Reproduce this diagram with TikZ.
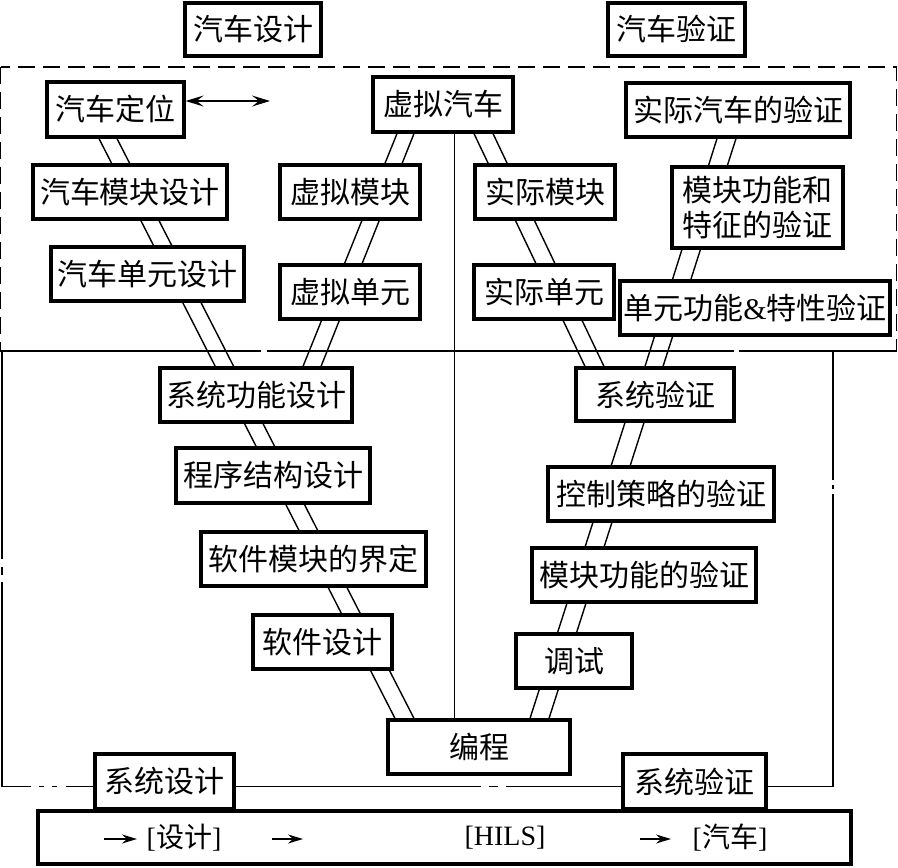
\documentclass[tikz,border=0pt]{standalone}
\usepackage{fontspec}
\setmainfont{Liberation Serif}
\newfontfamily\cjk{Noto Sans CJK SC}
\newfontfamily\lat{Liberation Serif}
\usetikzlibrary{arrows.meta,backgrounds}
\begin{document}
\begin{tikzpicture}[x=1pt,y=-1pt,
  box/.style={draw, line width=3.2pt, fill=white, inner sep=0pt, align=center,
    font=\cjk\fontsize{30}{35}\selectfont},
  sz/.style n args={2}{minimum width=#1pt, minimum height=#2pt},
  rail/.style={line width=1.4pt},
  thinline/.style={line width=1pt},
  chain/.style={line width=1.3pt},
  dashbox/.style={line width=1.3pt, dash pattern=on 17pt off 8pt},
  dblarrow/.style={line width=1.3pt, {Stealth[length=18pt,width=11pt,inset=7pt]}-{Stealth[length=18pt,width=11pt,inset=7pt]}},
  smallarrow/.style={line width=1.4pt, -{Stealth[length=15pt,width=9pt,inset=5pt]}},
  btext/.style={inner sep=0pt, font=\cjk\fontsize{28}{28}\selectfont}
]
\useasboundingbox (0,0) rectangle (898,868);

% nodes
\node[box, sz={136}{53}] (d0) at (253,29.5) {汽车设计};
\node[box, sz={137}{53}] (v0) at (676.5,29.5) {汽车验证};

\node[box, sz={137}{55}] (a1) at (115.5,109.5) {汽车定位};
\node[box, sz={194}{54}] (a2) at (130,192) {汽车模块设计};
\node[box, sz={193}{54}] (a3) at (147.5,274) {汽车单元设计};

\node[box, sz={140}{55}] (b1) at (443,104.5) {虚拟汽车};
\node[box, sz={140}{54}] (b2) at (350,192) {虚拟模块};
\node[box, sz={140}{54}] (b3) at (350,292) {虚拟单元};

\node[box, sz={140}{54}] (c1) at (545,192) {实际模块};
\node[box, sz={140}{54}] (c2) at (544,292) {实际单元};

\node[box, sz={224}{54}] (e1) at (738,110) {实际汽车的验证};
\node[box, sz={171}{81}] (e2) at (757.5,207.5) {模块功能和\\特征的验证};
\node[box, sz={270}{54}] (e3) at (755,308) {单元功能{\lat\&}特性验证};

\node[box, sz={192}{54}] (s1) at (256,395) {系统功能设计};
\node[box, sz={194}{55}] (s2) at (273,475.5) {程序结构设计};
\node[box, sz={225}{54}] (s3) at (313.5,559) {软件模块的界定};
\node[box, sz={139}{54}] (s4) at (322.5,642) {软件设计};

\node[box, sz={158}{53}] (t1) at (655,394.5) {系统验证};
\node[box, sz={226}{54}] (t2) at (661,494) {控制策略的验证};
\node[box, sz={224}{54}] (t3) at (644,575) {模块功能的验证};
\node[box, sz={116}{54}] (t4) at (574,661) {调试};

\node[box, sz={182}{54}] (p) at (479,747) {编程};

\node[box, sz={139}{55}] (f1) at (164.5,781.5) {系统设计};
\node[box, sz={143}{55}] (f2) at (694.5,781.5) {系统验证};

\node[box, sz={813}{53}] (g) at (444.5,837.5) {};

% bottom texts
\node[btext] (g1) at (184,838) {{\lat[}设计{\lat]}};
\node[btext, font=\lat\fontsize{28}{28}\selectfont] (g2) at (505,838) {[HILS]};
\node[btext] (g3) at (730,838) {{\lat[}汽车{\lat]}};

\coordinate (ar1s) at (104,839); \coordinate (ar1e) at (137,839);
\coordinate (ar2s) at (272,839); \coordinate (ar2e) at (303,839);
\coordinate (ar3s) at (640,839); \coordinate (ar3e) at (671,839);
\draw[smallarrow] (ar1s) -- (ar1e);
\draw[smallarrow] (ar2s) -- (ar2e);
\draw[smallarrow] (ar3s) -- (ar3e);

% double arrow near 汽车定位
\coordinate (dae) at (270,101);
\draw[dblarrow] ([yshift=8.5pt]a1.east) -- (dae);

% coordinates for the frame lines
\coordinate (hl) at (0,351);
\coordinate (hr) at (897,351);
\coordinate (lt) at (2,351);
\coordinate (rt) at (833,351);

\begin{pgfonlayer}{background}
  % dashed frame
  \draw[dashbox] (0.8,67) rectangle (896.5,351);
  % chain lines
  \draw[chain, dash pattern=on 247pt off 6pt on 8pt off 6pt on 463pt off 9pt on 10pt off 9pt on 300pt] (hl) -- (hr);
  \draw[chain, dash pattern=on 27pt off 9pt on 5pt off 8pt on 5pt off 8pt on 234pt off 7pt on 8pt off 8pt on 400pt] ([yshift=-5pt]f1.west) -| (lt);
  \draw[chain, dash pattern=on 245pt off 8pt on 9pt off 8pt on 300pt] ([yshift=-5pt]f1.east) -- ([yshift=-5pt]f2.west);
  \draw[chain, dash pattern=on 358pt off 5pt on 4pt off 5pt on 300pt] ([yshift=-5pt]f2.east) -| (rt);
  % centre line
  \draw[thinline] ([xshift=11pt]b1.south) -- ([xshift=11pt]b1.south |- p.north);
  % rails: 汽车定位 -> 编程
  \draw[rail] ([xshift=-16.5pt]a1.south) -- ([xshift=-84pt]p.north);
  \draw[rail] ([xshift=1.5pt]a1.south) -- ([xshift=-65pt]p.north);
  % 虚拟汽车 -> 系统功能设计
  \draw[rail] ([xshift=-46pt]b1.south) -- ([xshift=47pt]s1.north);
  \draw[rail] ([xshift=-29pt]b1.south) -- ([xshift=65pt]s1.north);
  % 虚拟汽车 -> 系统验证
  \draw[rail] ([xshift=31pt]b1.south) -- ([xshift=-70pt]t1.north);
  \draw[rail] ([xshift=50pt]b1.south) -- ([xshift=-51pt]t1.north);
  % 实际汽车的验证 -> 系统验证
  \draw[rail] ([xshift=-21pt]e1.south) -- ([xshift=-10pt]t1.north);
  \draw[rail] ([xshift=-2pt]e1.south) -- ([xshift=8pt]t1.north);
  % 系统验证 -> 编程
  \draw[rail] ([xshift=-30pt]t1.south) -- ([xshift=51pt]p.north);
  \draw[rail] ([xshift=-11pt]t1.south) -- ([xshift=70pt]p.north);
\end{pgfonlayer}
\end{tikzpicture}
\end{document}
